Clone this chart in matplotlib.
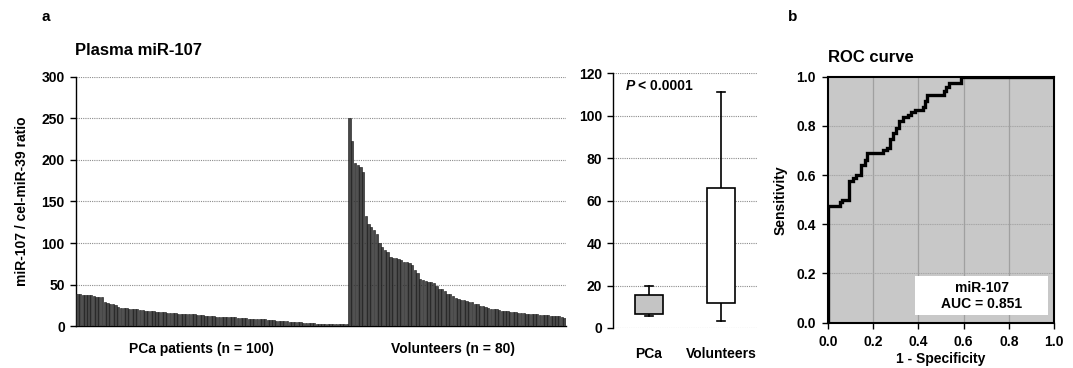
import matplotlib
matplotlib.use('Agg')
import matplotlib.pyplot as plt
from matplotlib.patches import Rectangle

plt.rcParams['font.family'] = ['Liberation Sans', 'DejaVu Sans']
plt.rcParams['font.weight'] = 'bold'
plt.rcParams['axes.labelweight'] = 'bold'
plt.rcParams['font.size'] = 10

# ---------------- data ----------------
pca_values = [39, 39, 37, 37, 37, 37, 36, 35, 35, 35,
              29, 28, 27, 26, 25, 23, 22, 22, 22, 21,
              20, 20, 20, 19, 19, 18, 18, 18, 18, 17,
              17, 17, 17, 16, 16, 16, 16, 15, 15, 15,
              15, 14, 14, 14, 13, 13, 13, 12, 12, 12,
              12, 11, 11, 11, 11, 11, 11, 11, 11, 10,
              10, 10, 10, 9, 9, 9, 9, 9, 9, 8,
              7, 7, 7, 6, 6, 6, 6, 6, 5, 5,
              5, 5, 5, 4, 4, 4, 4, 4, 3, 3,
              3, 3, 3, 3, 3, 2, 2, 2, 2, 2]
volunteer_values = [250, 223, 196, 194, 191, 186, 133, 123, 119, 116,
                    111, 100, 95, 92, 89, 83, 82, 82, 81, 80,
                    77, 77, 76, 73, 68, 64, 57, 56, 54, 53,
                    53, 52, 48, 45, 44, 42, 39, 38, 36, 34,
                    32, 31, 31, 30, 29, 29, 27, 26, 24, 24,
                    23, 22, 21, 20, 20, 19, 18, 18, 18, 17,
                    17, 17, 16, 16, 16, 15, 15, 15, 14, 14,
                    13, 13, 13, 13, 12, 12, 12, 12, 11, 10]
group_labels = ['PCa patients (n = 100)', 'Volunteers (n = 80)']
bar_yticks = [0, 50, 100, 150, 200, 250, 300]

box_categories = ['PCa', 'Volunteers']
box_whislo = [5.5, 3.5]
box_q1 = [6.7, 11.8]
box_median = [11.0, 24.0]
box_q3 = [15.7, 66.0]
box_whishi = [19.6, 111.0]
box_yticks = [0, 20, 40, 60, 80, 100, 120]
p_text = '< 0.0001'

roc_fpr = [0.0, 0.0, 0.055, 0.063, 0.093, 0.11, 0.125, 0.148, 0.162, 0.173,
           0.244, 0.262, 0.273, 0.288, 0.30, 0.315, 0.33, 0.355, 0.365, 0.385,
           0.42, 0.43, 0.437, 0.513, 0.524, 0.535, 0.59, 1.0]
roc_tpr = [0.0, 0.475, 0.49, 0.50, 0.575, 0.59, 0.60, 0.64, 0.66, 0.69,
           0.70, 0.71, 0.745, 0.77, 0.79, 0.82, 0.835, 0.845, 0.855, 0.865,
           0.875, 0.90, 0.925, 0.94, 0.96, 0.975, 1.0, 1.0]
roc_ticks = [0.0, 0.2, 0.4, 0.6, 0.8, 1.0]
auc_text = 'miR-107\nAUC = 0.851'

# ---------------- figure ----------------
fig = plt.figure(figsize=(10.73, 3.68), dpi=100)

grid_kw = dict(color='#8c8c8c', linestyle=(0, (1, 1)), linewidth=0.8)

# ---- bar chart ----
ax1 = fig.add_axes([0.0708, 0.1141, 0.4567, 0.6767])
values = pca_values + volunteer_values
xs = list(range(len(values)))
ax1.bar(xs, values, width=0.85, color='#474747', edgecolor='#111111',
        linewidth=0.4, zorder=3)
ax1.set_xlim(-0.55, len(values) - 0.45)
ax1.set_ylim(0, 300)
ax1.set_yticks(bar_yticks)
ax1.set_yticklabels([str(t) for t in bar_yticks])
for t in bar_yticks[1:]:
    ax1.axhline(t, zorder=1, **grid_kw)
ax1.set_xticks([])
for s in ['top', 'right']:
    ax1.spines[s].set_visible(False)
ax1.spines['left'].set_linewidth(1.0)
ax1.spines['bottom'].set_linewidth(1.0)
ax1.tick_params(axis='y', direction='out', length=4, width=1, pad=4,
                labelsize=10)
ax1.set_ylabel('miR-107 / cel-miR-39 ratio', fontsize=10, labelpad=9)
ax1.text(0.257, -0.092, group_labels[0], transform=ax1.transAxes,
         ha='center', va='center', fontsize=10, fontweight='bold')
ax1.text(0.769, -0.092, group_labels[1], transform=ax1.transAxes,
         ha='center', va='center', fontsize=10, fontweight='bold')

# ---- box plot ----
ax2 = fig.add_axes([0.5713, 0.1087, 0.1342, 0.6921])
stats = []
for i, name in enumerate(box_categories):
    stats.append(dict(label=name, whislo=box_whislo[i], q1=box_q1[i],
                      med=box_median[i], q3=box_q3[i], whishi=box_whishi[i],
                      fliers=[]))
bp = ax2.bxp(stats, positions=[1, 2], widths=0.4, patch_artist=True,
             showfliers=False, capwidths=0.12,
             boxprops=dict(linewidth=1.2, edgecolor='black'),
             medianprops=dict(color='black', linewidth=1.2),
             whiskerprops=dict(color='black', linewidth=1.2),
             capprops=dict(color='black', linewidth=1.2))
bp['boxes'][0].set_facecolor('#c4c4c4')
bp['boxes'][1].set_facecolor('white')
for b in bp['boxes']:
    b.set_zorder(3)
ax2.set_xlim(0.5, 2.5)
ax2.set_ylim(0, 120)
ax2.set_yticks(box_yticks)
for t in box_yticks:
    ax2.axhline(t, zorder=1, **grid_kw)
for s in ['top', 'right', 'bottom']:
    ax2.spines[s].set_visible(False)
ax2.spines['left'].set_linewidth(1.0)
ax2.tick_params(axis='y', direction='out', length=4, width=1, pad=4,
                labelsize=10)
ax2.tick_params(axis='x', length=0, pad=14, labelsize=10)
ax2.text(0.09, 0.95, 'P', transform=ax2.transAxes, ha='left', va='center',
         fontsize=10, fontweight='bold', fontstyle='italic')
ax2.text(0.175, 0.95, p_text, transform=ax2.transAxes, ha='left',
         va='center', fontsize=10, fontweight='bold')

# ---- ROC ----
ax3 = fig.add_axes([0.7717, 0.1231, 0.2106, 0.6685])
ax3.set_facecolor('#c8c8c8')
ax3.set_xlim(0, 1)
ax3.set_ylim(0, 1)
ax3.set_xticks(roc_ticks)
ax3.set_yticks(roc_ticks)
ax3.set_xticklabels([f'{t:.1f}' for t in roc_ticks])
ax3.set_yticklabels([f'{t:.1f}' for t in roc_ticks])
for t in roc_ticks[1:-1]:
    ax3.axvline(t, color='#a0a0a0', linewidth=0.9, zorder=1)
    ax3.axhline(t, color='#a6a6a6', linewidth=0.8, linestyle=(0, (1, 0.6)),
                zorder=1)
ax3.step(roc_fpr, roc_tpr, where='post', color='black', linewidth=2.4,
         zorder=4, solid_joinstyle='miter')
ax3.add_patch(Rectangle((0.385, 0.03), 0.59, 0.16, facecolor='white',
                        edgecolor='none', zorder=5))
ax3.text(0.68, 0.11, auc_text, ha='center', va='center', fontsize=10,
         fontweight='bold', linespacing=1.2, zorder=6)
for s in ax3.spines.values():
    s.set_linewidth(1.5)
    s.set_zorder(6)
ax3.tick_params(direction='out', length=4, width=1, pad=5, labelsize=10)
ax3.set_xlabel('1 - Specificity', fontsize=10, labelpad=2)
ax3.set_ylabel('Sensitivity', fontsize=10, labelpad=6)

# ---- titles & panel letters ----
fig.text(0.039, 0.954, 'a', ha='left', va='center', fontsize=11,
         fontweight='bold')
fig.text(0.0699, 0.864, 'Plasma miR-107', ha='left', va='center',
         fontsize=12, fontweight='bold')
fig.text(0.734, 0.954, 'b', ha='left', va='center', fontsize=11,
         fontweight='bold')
fig.text(0.7717, 0.845, 'ROC curve', ha='left', va='center', fontsize=12,
         fontweight='bold')

fig.savefig('out.png', dpi=100)
